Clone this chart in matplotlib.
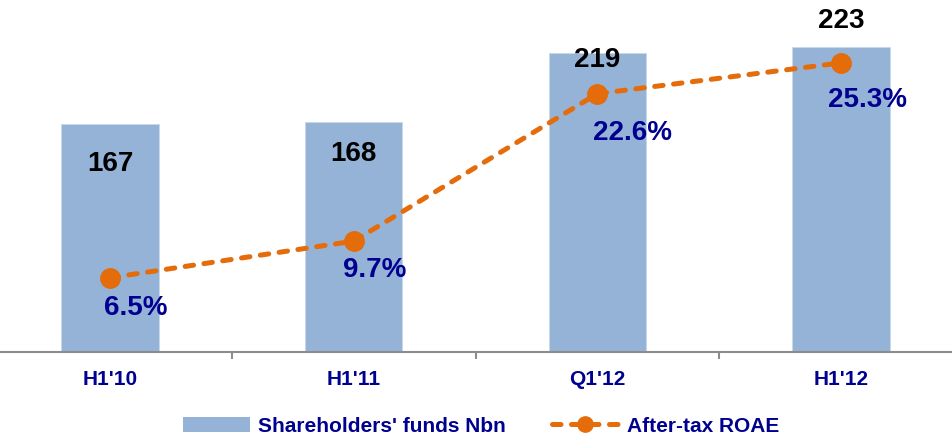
import matplotlib
matplotlib.use("Agg")
import matplotlib.pyplot as plt
from matplotlib.patches import Patch
from matplotlib.lines import Line2D

categories = ["H1'10", "H1'11", "Q1'12", "H1'12"]
funds = [167, 168, 219, 223]
roae = [6.5, 9.7, 22.6, 25.3]
funds_labels = ["167", "168", "219", "223"]
roae_labels = ["6.5%", "9.7%", "22.6%", "25.3%"]

# layout (pixel offsets for labels)
funds_offsets = [(0, -40), (0, -32), (0, -7), (0, 26)]
roae_offsets = [(26, -30), (21, -29), (35, -39), (26, -37)]

plt.rcParams['font.family'] = ['Liberation Sans', 'DejaVu Sans']

BAR = "#95B3D7"
ORANGE = "#E46C0A"
NAVY = "#000090"
DASH = (0, (1.7, 2.1))

fig = plt.figure(figsize=(9.53, 4.37), dpi=100)
ax = fig.add_axes([0, 85/437, 1, 352/437])
x = list(range(len(categories)))
ax.bar(x, funds, width=0.40, color=BAR, edgecolor="#C8D8EC", linewidth=0.6, zorder=2)
ax.set_xlim(-0.4514, 3.4596)
ax.set_ylim(0, 257.5)

for i, (v, lab) in enumerate(zip(funds, funds_labels)):
    dx, dy = funds_offsets[i]
    ax.annotate(lab, (i, v), xytext=(dx * 0.72, dy * 0.72), textcoords="offset points",
                ha="center", va="center", fontsize=20, fontweight="bold", color="black", zorder=5)

for s in ["top", "left", "right"]:
    ax.spines[s].set_visible(False)
ax.spines["bottom"].set_color("#8C8C8C")
ax.spines["bottom"].set_linewidth(1.5)
ax.set_yticks([])
ax.set_xticks([0.5, 1.5, 2.5])
ax.set_xticklabels([])
ax.tick_params(axis="x", which="major", length=5, width=1.5, color="#8C8C8C", direction="out")
ax.set_xticks(x, minor=True)
ax.set_xticklabels(categories, minor=True, fontsize=15, fontweight="bold", color=NAVY)
ax.tick_params(axis="x", which="minor", length=0, pad=13)

ax2 = ax.twinx()
ax2.set_ylim(0, 30.8)
ax2.set_yticks([])
for s in ax2.spines.values():
    s.set_visible(False)
ax2.plot(x, roae, color=ORANGE, linewidth=3.6, linestyle=DASH, dash_capstyle="round",
         marker="o", markersize=14, zorder=4)
for i, (v, lab) in enumerate(zip(roae, roae_labels)):
    dx, dy = roae_offsets[i]
    ax2.annotate(lab, (i, v), xytext=(dx * 0.72, dy * 0.72), textcoords="offset points",
                 ha="center", va="center", fontsize=20, fontweight="bold", color=NAVY, zorder=5)

handles = [Patch(facecolor=BAR, edgecolor="none"),
           Line2D([], [], color=ORANGE, linewidth=3.6, linestyle=DASH, dash_capstyle="round",
                  marker="o", markersize=11)]
fig.legend(handles, ["Shareholders' funds Nbn", "After-tax ROAE"], loc="center",
           bbox_to_anchor=(0.505, 0.025), ncol=2, frameon=False,
           prop={"size": 15, "weight": "bold"}, labelcolor=NAVY,
           handlelength=3.2, handletextpad=0.4, columnspacing=2.2, handleheight=0.7)

fig.savefig("out.png", dpi=100)
